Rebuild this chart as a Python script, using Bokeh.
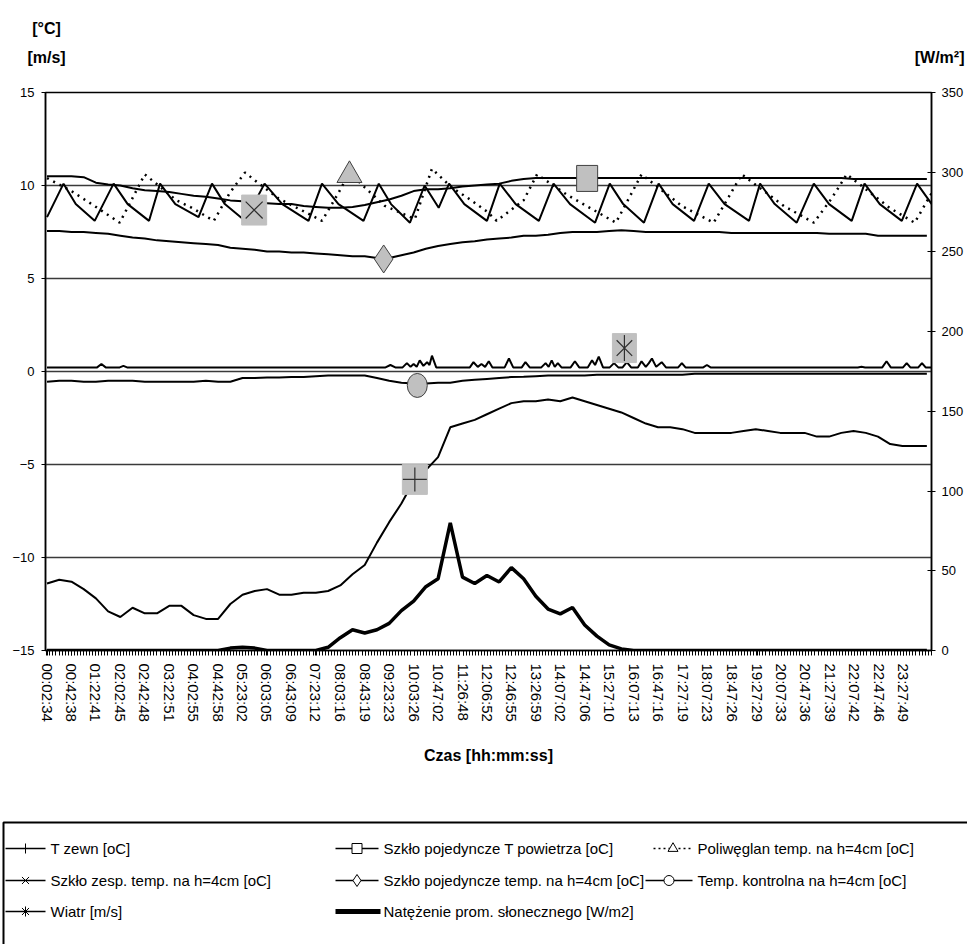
import math
from bokeh.plotting import figure
from bokeh.models import Range1d, LinearAxis, FixedTicker
from bokeh.layouts import column
from bokeh.embed import file_html
from bokeh.resources import INLINE
from bokeh.core.properties import value

# ---------------- data (x in minutes of the day) ----------------
TIME_LABELS = ["00:02:34", "00:42:38", "01:22:41", "02:02:45", "02:42:48", "03:22:51",
               "04:02:55", "04:42:58", "05:23:02", "06:03:05", "06:43:09", "07:23:12",
               "08:03:16", "08:43:19", "09:23:23", "10:03:26", "10:47:02", "11:26:48",
               "12:06:52", "12:46:55", "13:26:59", "14:07:02", "14:47:06", "15:27:10",
               "16:07:13", "16:47:16", "17:27:19", "18:07:23", "18:47:26", "19:27:29",
               "20:07:33", "20:47:36", "21:27:39", "22:07:42", "22:47:46", "23:27:49"]

GRID_T = [3 + 20 * k for k in range(73)]

T_ZEWN = [-11.4, -11.2, -11.3, -11.7, -12.2, -12.9, -13.2, -12.7, -13.0, -13.0,
          -12.6, -12.6, -13.1, -13.3, -13.3, -12.5, -12.0, -11.8, -11.7, -12.0,
          -12.0, -11.9, -11.9, -11.8, -11.5, -10.9, -10.4, -9.2, -8.1, -7.1,
          -5.9, -5.3, -4.6, -3.0, -2.8, -2.6, -2.3, -2.0, -1.7, -1.6,
          -1.6, -1.5, -1.6, -1.4, -1.6, -1.8, -2.0, -2.2, -2.5, -2.8,
          -3.0, -3.0, -3.1, -3.3, -3.3, -3.3, -3.3, -3.2, -3.1, -3.2,
          -3.3, -3.3, -3.3, -3.5, -3.5, -3.3, -3.2, -3.3, -3.5, -3.9,
          -4.0, -4.0, -4.0]

RADIATION = [0, 0, 0, 0, 0, 0, 0, 0, 0, 0,
             0, 0, 0, 0, 0, 1.5, 2, 1.5, 0, 0,
             0, 0, 0, 2, 8, 13, 11, 13, 17, 25,
             31, 40, 45, 80, 46, 42, 47, 43, 52, 45,
             34, 26, 23, 27, 16, 9, 3.5, 1, 0, 0,
             0, 0, 0, 0, 0, 0, 0, 0, 0, 0,
             0, 0, 0, 0, 0, 0, 0, 0, 0, 0,
             0, 0, 0]

SZKLO_POJ_T_POW = [10.5, 10.5, 10.5, 10.45, 10.15, 10.05, 10.0, 9.85, 9.75, 9.7,
                   9.65, 9.55, 9.45, 9.4, 9.3, 9.2, 9.15, 9.1, 9.05, 9.0,
                   9.0, 8.9, 8.85, 8.8, 8.8, 8.85, 8.95, 9.1, 9.25, 9.45,
                   9.7, 9.8, 9.8, 9.85, 9.95, 10.0, 10.05, 10.1, 10.25, 10.35,
                   10.4, 10.4, 10.4, 10.4, 10.4, 10.4, 10.4, 10.4, 10.4, 10.4,
                   10.4, 10.4, 10.4, 10.4, 10.4, 10.4, 10.4, 10.4, 10.4, 10.4,
                   10.4, 10.4, 10.4, 10.4, 10.4, 10.4, 10.35, 10.35, 10.35, 10.35,
                   10.35, 10.35, 10.35]

SZKLO_POJ_H4 = [7.55, 7.55, 7.5, 7.5, 7.45, 7.4, 7.3, 7.2, 7.15, 7.05,
                7.0, 6.95, 6.9, 6.85, 6.8, 6.65, 6.6, 6.55, 6.45, 6.45,
                6.4, 6.4, 6.35, 6.3, 6.25, 6.2, 6.2, 6.1, 6.1, 6.25,
                6.4, 6.6, 6.75, 6.85, 6.95, 7.0, 7.1, 7.15, 7.2, 7.3,
                7.3, 7.35, 7.45, 7.5, 7.5, 7.5, 7.55, 7.6, 7.55, 7.5,
                7.5, 7.5, 7.5, 7.5, 7.5, 7.5, 7.45, 7.45, 7.45, 7.45,
                7.45, 7.45, 7.45, 7.45, 7.4, 7.4, 7.4, 7.4, 7.3, 7.3,
                7.3, 7.3, 7.3]

KONTROLNA = [-0.55, -0.5, -0.5, -0.55, -0.55, -0.5, -0.5, -0.5, -0.55, -0.55,
             -0.55, -0.55, -0.55, -0.5, -0.55, -0.55, -0.35, -0.35, -0.32, -0.32,
             -0.3, -0.3, -0.25, -0.22, -0.22, -0.22, -0.22, -0.35, -0.5, -0.6,
             -0.65, -0.65, -0.6, -0.6, -0.5, -0.45, -0.4, -0.35, -0.3, -0.28,
             -0.25, -0.22, -0.22, -0.22, -0.22, -0.18, -0.18, -0.18, -0.18, -0.18,
             -0.18, -0.18, -0.18, -0.12, -0.12, -0.12, -0.12, -0.12, -0.12, -0.12,
             -0.12, -0.12, -0.12, -0.12, -0.12, -0.12, -0.12, -0.12, -0.12, -0.12,
             -0.12, -0.12, -0.12]

ZESP_T = [3, 30, 50, 81, 112, 135, 170, 188, 213, 251, 273, 294, 327, 359, 388, 431,
          453, 480, 521, 546, 566, 597, 621, 644, 661, 686, 723, 744, 770, 808, 832,
          859, 900, 924, 946, 980, 1004, 1027, 1062, 1086, 1112, 1152, 1170, 1194,
          1230, 1258, 1283, 1320, 1341, 1366, 1402, 1427, 1451]
ZESP_V = [8.3, 10.1, 9.0, 8.1, 10.1, 9.0, 8.1, 10.1, 9.0, 8.3, 10.1, 9.0, 8.1, 10.1,
          9.0, 8.1, 10.1, 9.0, 8.1, 10.1, 9.0, 8.0, 10.0, 8.8, 10.1, 9.0, 8.1, 10.1,
          9.0, 8.1, 10.1, 9.0, 8.0, 10.1, 9.0, 8.0, 10.1, 9.0, 8.1, 10.1, 9.0, 8.1,
          10.1, 9.0, 8.0, 10.1, 9.0, 8.1, 10.1, 9.0, 8.1, 10.1, 9.0]

POLI_T = [3, 43, 76, 122, 163, 215, 240, 276, 302, 327, 350, 382, 412, 453, 480, 498,
          523, 556, 605, 633, 665, 693, 723, 739, 783, 805, 854, 886, 934, 960, 976,
          1042, 1094, 1119, 1140, 1209, 1258, 1287, 1312, 1382, 1423, 1451]
POLI_V = [10.4, 9.7, 9.0, 8.0, 10.6, 9.2, 8.8, 8.1, 9.6, 10.7, 10.1, 9.3, 8.8, 8.1,
          9.6, 10.7, 9.9, 8.9, 8.2, 10.9, 9.9, 9.3, 8.6, 8.1, 9.2, 10.6, 9.5, 8.9,
          8.0, 9.6, 10.6, 8.9, 8.0, 9.4, 10.6, 8.9, 8.0, 9.3, 10.6, 8.8, 8.0, 9.6]

WIND_T = [3, 85, 92, 99, 122, 128, 134, 557, 565, 573,
          585, 592, 598, 603, 608, 613, 619, 625, 629, 633,
          640, 695, 701, 708, 714, 720, 726, 732, 752, 759,
          766, 780, 786, 793, 812, 819, 824, 829, 834, 839,
          845, 860, 867, 874, 888, 895, 900, 906, 913, 924,
          931, 938, 945, 952, 959, 970, 976, 983, 988, 993,
          1000, 1009, 1016, 1036, 1042, 1048, 1077, 1083, 1089, 1330,
          1336, 1342, 1370, 1377, 1384, 1404, 1410, 1416, 1429, 1435,
          1441, 1450]
WIND_V = [0.22, 0.22, 0.4, 0.22, 0.22, 0.3, 0.22, 0.22, 0.35, 0.22,
          0.22, 0.45, 0.25, 0.4, 0.25, 0.6, 0.3, 0.5, 0.35, 0.85,
          0.22, 0.22, 0.5, 0.25, 0.4, 0.25, 0.55, 0.22, 0.22, 0.7,
          0.22, 0.22, 0.5, 0.22, 0.22, 0.45, 0.25, 0.6, 0.25, 0.45,
          0.22, 0.22, 0.55, 0.22, 0.22, 0.6, 0.35, 0.8, 0.22, 0.22,
          0.45, 0.22, 0.22, 0.5, 0.22, 0.22, 0.55, 0.25, 0.45, 0.7,
          0.25, 0.5, 0.22, 0.22, 0.45, 0.22, 0.22, 0.35, 0.22, 0.22,
          0.25, 0.22, 0.22, 0.55, 0.22, 0.22, 0.45, 0.22, 0.22, 0.45,
          0.22, 0.22]

# single highlighted marker of each series (time, value)
MARK_ZEWN = (605, -5.8)
MARK_POW = (887, 10.38)
MARK_POLI = (498, 10.55)
MARK_ZESP = (342, 8.68)
MARK_POJ = (554, 6.05)
MARK_KONTR = (609, -0.75)
MARK_WIND = (948, 1.26)

LEGEND_LABELS = ["T zewn [oC]", "Szkło pojedyncze T powietrza [oC]",
                 "Poliwęglan temp. na h=4cm [oC]", "Szkło zesp. temp. na h=4cm [oC]",
                 "Szkło pojedyncze temp. na h=4cm [oC]", "Temp. kontrolna na h=4cm [oC]",
                 "Wiatr [m/s]", "Natężenie prom. słonecznego [W/m2]"]
UNIT_LABELS = ["[°C]", "[m/s]", "[W/m²]"]

# ---------------- styling ----------------
FONT = "Liberation Sans"
W = 967
H_HEAD = 80
H_MAIN = 732
H_LEG = 132
X0, X1 = 0.5, 1450.6
GRAY = "#c0c0c0"
DARK = "#404040"


def plain_fig(h):
    f = figure(width=W, height=h, output_backend="svg", toolbar_location=None,
               x_range=Range1d(0, W), y_range=Range1d(h, 0), min_border=0,
               min_border_left=0, min_border_right=0, min_border_top=0, min_border_bottom=0,
               x_axis_location=None, y_axis_location=None, frame_align=False,
               background_fill_color="white", border_fill_color="white")
    f.grid.visible = False
    f.outline_line_color = None
    return f


# ---------------- header with unit labels ----------------
hd = plain_fig(H_HEAD)
hd.text(x=[46, 46], y=[28, 57], text=UNIT_LABELS[:2], text_font=value(FONT),
        text_font_size="16px", text_font_style="bold", text_align="center",
        text_baseline="middle", text_color="black")
hd.text(x=[964], y=[57], text=UNIT_LABELS[2:], text_font=value(FONT),
        text_font_size="16px", text_font_style="bold", text_align="right",
        text_baseline="middle", text_color="black")

# ---------------- main chart ----------------
p = figure(width=W, height=H_MAIN, output_backend="svg", toolbar_location=None,
           x_range=Range1d(X0, X1), y_range=Range1d(-15, 15),
           min_border_left=45, min_border_right=36, min_border_top=12,
           min_border_bottom=162, frame_align=False, background_fill_color="white",
           border_fill_color="white")
p.extra_y_ranges = {"rad": Range1d(0, 350)}
p.outline_line_color = "black"
p.outline_line_width = 1.5

ticks = [round(2.6 + 40.07 * i) for i in range(len(TIME_LABELS))]
minor = [2.6 + 5.009 * j for j in range(0, 290) if 2.6 + 5.009 * j <= X1]

xa = p.xaxis[0]
xa.ticker = FixedTicker(ticks=ticks, minor_ticks=minor)
xa.major_label_overrides = {t: lab for t, lab in zip(ticks, TIME_LABELS)}
xa.major_label_orientation = "vertical"
xa.major_label_text_font = FONT
xa.major_label_text_font_size = "15px"
xa.major_label_text_color = "black"
xa.major_label_standoff = 8
xa.major_tick_in = 0
xa.major_tick_out = 5
xa.minor_tick_in = 0
xa.minor_tick_out = 5
xa.major_tick_line_color = "black"
xa.minor_tick_line_color = "black"
xa.axis_line_color = "black"
xa.axis_line_width = 1.5
xa.axis_label = "Czas [hh:mm:ss]"
xa.axis_label_text_font = FONT
xa.axis_label_text_font_style = "bold"
xa.axis_label_text_font_size = "16px"
xa.axis_label_text_color = "black"
xa.axis_label_standoff = 22

ya = p.yaxis[0]
ya.ticker = FixedTicker(ticks=[-15, -10, -5, 0, 5, 10, 15], minor_ticks=[])
ya.major_label_text_font = FONT
ya.major_label_text_font_size = "13px"
ya.major_label_text_color = "black"
ya.major_tick_in = 0
ya.major_tick_out = 4
ya.major_label_standoff = 7
ya.axis_line_color = "black"
ya.axis_line_width = 1.5
ya.major_tick_line_color = "black"

ra = LinearAxis(y_range_name="rad",
                ticker=FixedTicker(ticks=[0, 50, 100, 150, 200, 250, 300, 350], minor_ticks=[]))
ra.major_label_text_font = FONT
ra.major_label_text_font_size = "13px"
ra.major_label_text_color = "black"
ra.major_tick_in = 4
ra.major_tick_out = 4
ra.major_label_standoff = 6
ra.axis_line_color = "black"
ra.axis_line_width = 1.5
ra.major_tick_line_color = "black"
p.add_layout(ra, "right")

p.xgrid.visible = False
p.ygrid.grid_line_color = "#3a3a3a"
p.ygrid.grid_line_width = 1.5

# series
p.line(GRID_T, SZKLO_POJ_T_POW, line_color="black", line_width=2)
p.line(ZESP_T, ZESP_V, line_color="black", line_width=2)
p.line(POLI_T, POLI_V, line_color="black", line_width=2.5, line_dash="2 5")
p.line(GRID_T, SZKLO_POJ_H4, line_color="black", line_width=2)
p.line(WIND_T, WIND_V, line_color="black", line_width=2)
p.line(GRID_T, KONTROLNA, line_color="black", line_width=2)
p.line(GRID_T, T_ZEWN, line_color="black", line_width=2)
p.line(GRID_T, RADIATION, line_color="black", line_width=3.5, y_range_name="rad")


def box(mt, w, h, outline):
    p.rect(x=[mt[0]], y=[mt[1]], width=w, height=h, width_units="screen",
           height_units="screen", fill_color=GRAY, line_color=outline, line_width=1)


box(MARK_ZEWN, 25, 30, GRAY)
p.scatter([MARK_ZEWN[0]], [MARK_ZEWN[1]], marker="cross", size=24, line_color="#303030",
          line_width=1.2)
box(MARK_ZESP, 25, 30, GRAY)
p.scatter([MARK_ZESP[0]], [MARK_ZESP[1]], marker="x", size=24, line_color="#303030",
          line_width=1.2)
box(MARK_WIND, 24, 29, GRAY)
p.scatter([MARK_WIND[0]], [MARK_WIND[1]], marker="x", size=22, line_color="#303030",
          line_width=1.2)
p.scatter([MARK_WIND[0]], [MARK_WIND[1]], marker="dash", size=26, angle=math.pi / 2,
          line_color="#303030", line_width=1.2)
box(MARK_POW, 21, 26, DARK)
p.scatter([MARK_POLI[0]], [MARK_POLI[1]], marker="triangle", size=25, fill_color=GRAY,
          line_color=DARK, line_width=1)
p.scatter([MARK_POJ[0]], [MARK_POJ[1]], marker="diamond", size=28, fill_color=GRAY,
          line_color=DARK, line_width=1)
p.ellipse(x=[MARK_KONTR[0]], y=[MARK_KONTR[1]], width=20, height=24, width_units="screen",
          height_units="screen", fill_color=GRAY, line_color=DARK, line_width=1)

# ---------------- legend ----------------
lg = plain_fig(H_LEG)
lg.quad(left=[3], right=[1400], top=[10], bottom=[400], fill_color=None,
        line_color="black", line_width=2)

rows = [36, 68, 99]
specs = [  # (label index, row, line x0, line x1, text x, marker, dash, width)
    (0, 0, 5, 45, 50, "cross", "solid", 1.5),
    (1, 0, 335, 378, 383, "square", "solid", 1.5),
    (2, 0, 653, 692, 697, "triangle", "2 3", 1.5),
    (3, 1, 5, 45, 50, "x", "solid", 1.5),
    (4, 1, 335, 378, 383, "diamond", "solid", 1.5),
    (5, 1, 645, 692, 697, "circle", "solid", 1.5),
    (6, 2, 5, 45, 50, "asterisk", "solid", 1.5),
    (7, 2, 335, 380, 383, None, "solid", 5),
]
for li, r, x0, x1, xt, mk, dash, lw in specs:
    y = rows[r]
    lg.line([x0, x1], [y, y], line_color="black", line_width=lw, line_dash=dash)
    if mk is not None:
        lg.scatter([(x0 + x1) / 2], [y], marker=mk, size=10 if mk != "diamond" else 12,
                   fill_color="white", line_color="black", line_width=1)
    lg.text(x=[xt], y=[y], text=[LEGEND_LABELS[li]], text_font=value(FONT),
            text_font_size="15px", text_baseline="middle", text_align="left",
            text_color="black")

layout = column(hd, p, lg, spacing=0)
open("out.html", "w").write(file_html(layout, INLINE))
